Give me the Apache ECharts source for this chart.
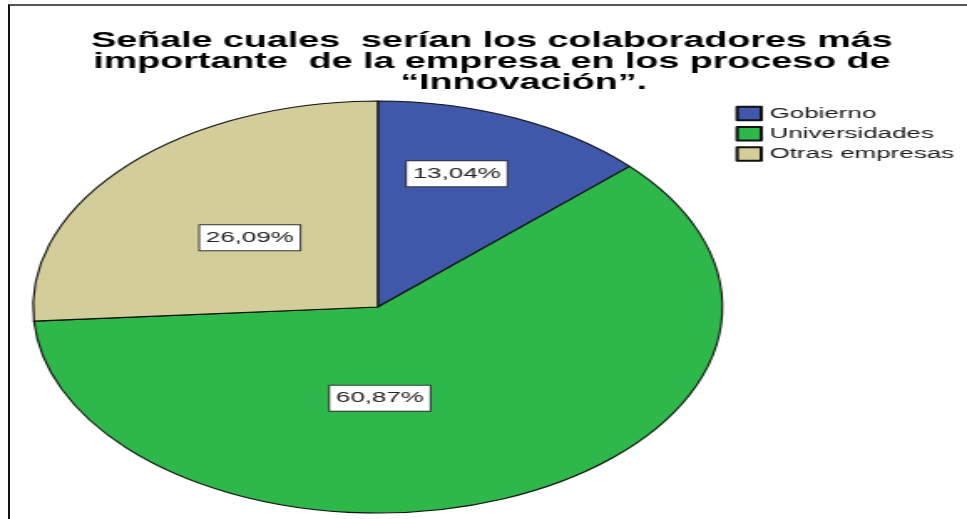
<!DOCTYPE html>
<html>
<head>
<meta charset="utf-8">
<title>Colaboradores en innovación</title>
<script src="https://cdn.jsdelivr.net/npm/echarts@6/dist/echarts.min.js"></script>
<style>
	html, body {
		margin: 0;
		padding: 0;
		background: #fff;
		width: 967px;
		height: 519px;
		overflow: hidden;
		position: relative;
	}
	/* marco recortado (solo arriba e izquierda) */
	.marco {
		position: absolute;
		left: 8px;
		top: 4px;
		right: 0;
		bottom: 0;
		border-left: 2px solid #111;
		border-top: 2px solid #555;
	}
	/* la imagen original está estirada en horizontal */
	.pie {
		position: absolute;
		left: 0;
		top: 0;
		width: 578px;
		height: 519px;
		transform: scaleX(1.673);
		transform-origin: 0 0;
	}
</style>
</head>
<body>
<div class="marco"></div>
<div class="pie" id="main"></div>
<script>
	// datos
	var categorias = ['Gobierno', 'Universidades', 'Otras empresas']
	var porcentajes = [13.04, 60.87, 26.09]
	var colores = ['#3f58a9', '#2eb84a', '#d3ce99']
	var titulo1 = 'Señale cuales  serían los colaboradores más\nimportante  de la empresa en los proceso de'
	var titulo2 = '“Innovación”.'

	var fuente = 'Liberation Sans, Arial, sans-serif'

	// pequeños ajustes de la etiqueta, igual que en la imagen
	var ajusteEtiqueta = {
		'Gobierno': [5, -36],
		'Universidades': [-41, -6],
		'Otras empresas': [1, 3]
	}

	var datos = categorias.map(function (nombre, i) {
		return {
			name: nombre,
			value: porcentajes[i],
			itemStyle: { color: colores[i] },
			label: { offset: ajusteEtiqueta[nombre] }
		}
	})

	var myChart = echarts.init(document.getElementById('main'))
	var option = {
		animation: false,
		title: [{
			text: titulo1,
			left: 294,
			top: 31,
			padding: 0,
			textAlign: 'center',
			textStyle: {
				fontFamily: fuente,
				fontWeight: 'bold',
				fontSize: 22.5,
				lineHeight: 20.5,
				color: '#000'
			}
		}, {
			text: titulo2,
			left: 313,
			top: 73,
			padding: 0,
			textAlign: 'center',
			textStyle: {
				fontFamily: fuente,
				fontWeight: 'bold',
				fontSize: 22.5,
				lineHeight: 20.5,
				color: '#000'
			}
		}],
		legend: {
			orient: 'vertical',
			left: 439.6,
			top: 105.5,
			padding: 0,
			itemWidth: 14.4,
			itemHeight: 13.5,
			itemGap: 4.3,
			icon: 'rect',
			data: categorias,
			textStyle: {
				fontFamily: fuente,
				fontSize: 15.5,
				lineHeight: 14,
				color: '#1a1a1a'
			}
		},
		series: [{
			name: 'Colaboradores',
			type: 'pie',
			center: [225.8, 307],
			radius: 206,
			startAngle: 90,
			clockwise: true,
			silent: true,
			itemStyle: {
				borderColor: '#111',
				borderWidth: 1.1
			},
			label: {
				show: true,
				position: 'inside',
				formatter: function (p) {
					return p.value.toFixed(2).replace('.', ',') + '%'
				},
				fontFamily: fuente,
				fontSize: 15.5,
				lineHeight: 15,
				color: '#222',
				backgroundColor: '#fff',
				borderColor: '#333',
				borderWidth: 1,
				padding: [5, 3.5]
			},
			labelLine: { show: false },
			data: datos
		}]
	}
	myChart.setOption(option, true)
</script>
</body>
</html>
